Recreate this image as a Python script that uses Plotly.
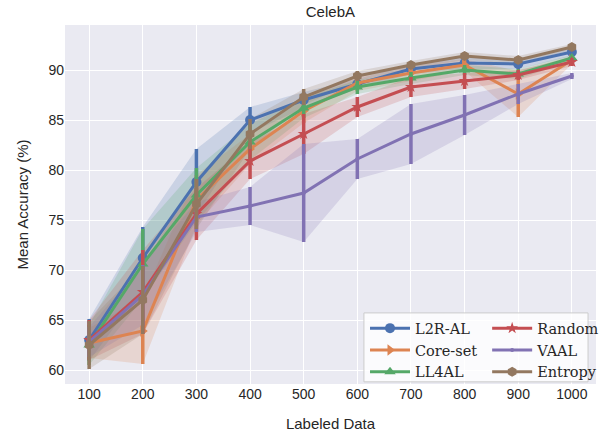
import plotly.graph_objects as go

labeled = [100, 200, 300, 400, 500, 600, 700, 800, 900, 1000]

l2r_mean = [63.0, 71.2, 78.8, 85.0, 87.0, 88.6, 90.1, 90.7, 90.6, 91.8]
l2r_std = [2.1, 3.1, 3.3, 1.3, 0.8, 0.5, 0.5, 0.6, 0.5, 0.4]

coreset_mean = [62.7, 63.9, 77.0, 82.1, 85.9, 88.7, 89.7, 90.5, 87.6, 91.0]
coreset_std = [1.5, 3.3, 2.5, 1.5, 1.2, 0.8, 0.8, 0.6, 2.3, 0.4]

ll4al_mean = [62.5, 70.6, 77.5, 82.8, 86.2, 88.3, 89.2, 90.0, 89.6, 91.2]
ll4al_std = [2.0, 3.5, 2.7, 1.8, 1.0, 0.7, 0.6, 0.5, 0.5, 0.3]

random_mean = [63.0, 67.8, 75.6, 80.9, 83.6, 86.3, 88.3, 88.9, 89.5, 90.8]
random_std = [2.0, 4.2, 2.6, 1.8, 2.0, 1.0, 1.0, 0.8, 0.5, 0.4]

vaal_mean = [62.8, 67.5, 75.3, 76.4, 77.7, 81.1, 83.6, 85.5, 87.6, 89.4]
vaal_std = [1.5, 3.0, 1.5, 1.9, 4.9, 2.0, 3.0, 2.0, 1.0, 0.3]

entropy_mean = [62.5, 67.0, 76.6, 83.6, 87.3, 89.4, 90.5, 91.4, 91.0, 92.3]
entropy_std = [2.4, 3.4, 2.5, 1.5, 0.8, 0.5, 0.4, 0.4, 0.4, 0.3]

series = [
    ("L2R-AL", l2r_mean, l2r_std, "#4C72B0", "circle", 10, "legend"),
    ("Core-set", coreset_mean, coreset_std, "#DD8452", "triangle-right", 10, "legend"),
    ("LL4AL", ll4al_mean, ll4al_std, "#55A868", "triangle-up", 10, "legend"),
    ("Random", random_mean, random_std, "#C44E52", "star", 9, "legend2"),
    ("VAAL", vaal_mean, vaal_std, "#8172B3", "circle", 4, "legend2"),
    ("Entropy", entropy_mean, entropy_std, "#937860", "hexagon", 10, "legend2"),
]

def rgba(h, a):
    h = h.lstrip("#")
    return "rgba(%d,%d,%d,%s)" % (int(h[0:2], 16), int(h[2:4], 16), int(h[4:6], 16), a)

fig = go.Figure()

# bands
for name, m, s, c, sym, sz, lg in series:
    up = [a + b for a, b in zip(m, s)]
    lo = [a - b for a, b in zip(m, s)]
    fig.add_trace(go.Scatter(
        x=labeled + labeled[::-1], y=up + lo[::-1], fill="toself",
        fillcolor=rgba(c, 0.2), line=dict(width=0), mode="lines",
        showlegend=False, hoverinfo="skip"))

for name, m, s, c, sym, sz, lg in series:
    fig.add_trace(go.Scatter(
        x=labeled, y=m, name=name, mode="lines+markers", legend=lg,
        line=dict(color=c, width=3),
        marker=dict(symbol=sym, size=sz, color=c),
        error_y=dict(type="data", array=s, visible=True, thickness=3.5, width=0, color=c)))

leg_common = dict(bgcolor="rgba(0,0,0,0)", borderwidth=0,
                  font=dict(family="DejaVu Serif", size=14.5, color="#262626"),
                  itemwidth=40, yanchor="top", xanchor="left", tracegroupgap=0)

fig.add_shape(type="rect", xref="paper", yref="paper",
              x0=0.563, x1=0.985, y0=0.006, y1=0.198,
              fillcolor="rgba(255,255,255,0.8)", line=dict(color="#CCCCCC", width=1),
              layer="above")

fig.update_layout(
    width=604, height=432,
    margin=dict(l=65, r=8, t=25, b=48, autoexpand=False),
    paper_bgcolor="white", plot_bgcolor="#EAEAF2",
    font=dict(family="Liberation Sans, Arial, sans-serif", size=14, color="#262626"),
    title=dict(text="CelebA", x=0.547, xanchor="center", y=0.985, yanchor="top",
               font=dict(size=15, color="#262626")),
    xaxis=dict(range=[55, 1045], tickvals=labeled, showgrid=True, gridcolor="white",
               gridwidth=1, zeroline=False, ticks="", showline=False, automargin=False,
               title=dict(text="Labeled Data", font=dict(size=15), standoff=18)),
    yaxis=dict(range=[58.6, 94.5], tickvals=[60, 65, 70, 75, 80, 85, 90], showgrid=True,
               gridcolor="white", gridwidth=1, zeroline=False, ticks="", showline=False,
               automargin=False,
               title=dict(text="Mean Accuracy (%)", font=dict(size=15), standoff=16)),
    legend=dict(x=0.565, y=0.2, **leg_common),
    legend2=dict(x=0.795, y=0.2, **leg_common),
)

fig.write_html("out.html")
